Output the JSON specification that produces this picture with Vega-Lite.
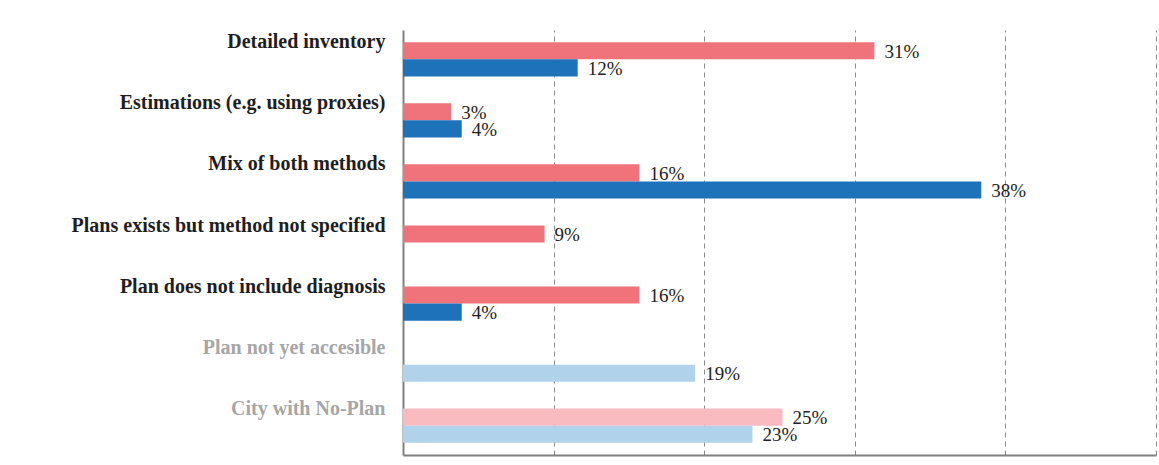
{
  "$schema": "https://vega.github.io/schema/vega-lite/v6.json",
  "width": 753,
  "height": 425,
  "autosize": {"type": "none"},
  "padding": {"left": 403, "top": 30, "right": 3, "bottom": 10},
  "background": "white",
  "data": {
    "values": [
      {"category": "Detailed inventory", "series": "A", "tone": "Red", "value": 31.3, "label": "31%"},
      {"category": "Detailed inventory", "series": "B", "tone": "Blue", "value": 11.6, "label": "12%"},
      {"category": "Estimations (e.g. using proxies)", "series": "A", "tone": "Red", "value": 3.2, "label": "3%"},
      {"category": "Estimations (e.g. using proxies)", "series": "B", "tone": "Blue", "value": 3.9, "label": "4%"},
      {"category": "Mix of both methods", "series": "A", "tone": "Red", "value": 15.7, "label": "16%"},
      {"category": "Mix of both methods", "series": "B", "tone": "Blue", "value": 38.4, "label": "38%"},
      {"category": "Plans exists  but method not specified", "series": "A", "tone": "Red", "value": 9.4, "label": "9%"},
      {"category": "Plan does not include diagnosis", "series": "A", "tone": "Red", "value": 15.7, "label": "16%"},
      {"category": "Plan does not include diagnosis", "series": "B", "tone": "Blue", "value": 3.9, "label": "4%"},
      {"category": "Plan not yet accesible", "series": "B", "tone": "LightBlue", "value": 19.4, "label": "19%"},
      {"category": "City with No-Plan", "series": "A", "tone": "LightRed", "value": 25.2, "label": "25%"},
      {"category": "City with No-Plan", "series": "B", "tone": "LightBlue", "value": 23.2, "label": "23%"}
    ]
  },
  "encoding": {
    "y": {
      "field": "category",
      "type": "nominal",
      "sort": null,
      "scale": {
        "domain": ["Detailed inventory", "Estimations (e.g. using proxies)", "Mix of both methods", "Plans exists  but method not specified", "Plan does not include diagnosis", "Plan not yet accesible", "City with No-Plan"],
        "paddingInner": 0.44,
        "paddingOuter": 0.2
      },
      "axis": {
        "title": null,
        "ticks": false,
        "labelPadding": 18,
        "labelOffset": -17,
        "labelFont": "Liberation Serif",
        "labelFontWeight": "bold",
        "labelFontSize": 20,
        "labelLimit": 400,
        "labelColor": {
          "condition": {"test": "datum.value === 'Plan not yet accesible' || datum.value === 'City with No-Plan'", "value": "#a6a6a6"},
          "value": "#1e1e1e"
        },
        "domainColor": "#808080",
        "domainWidth": 2,
        "grid": false
      }
    },
    "yOffset": {
      "field": "series",
      "type": "nominal",
      "scale": {"domain": ["A", "B"], "paddingInner": 0, "paddingOuter": 0}
    },
    "x": {
      "field": "value",
      "type": "quantitative",
      "scale": {"domain": [0, 50], "nice": false, "zero": true},
      "axis": {
        "title": null,
        "labels": false,
        "ticks": false,
        "values": [10, 20, 30, 40, 50],
        "grid": true,
        "gridColor": "#8a8a8a",
        "gridDash": [5, 4],
        "gridWidth": 1,
        "domainColor": "#808080",
        "domainWidth": 2
      }
    }
  },
  "layer": [
    {
      "mark": {"type": "bar"},
      "encoding": {
        "color": {
          "field": "tone",
          "type": "nominal",
          "scale": {"domain": ["Red", "Blue", "LightBlue", "LightRed"], "range": ["#F0727A", "#1D72BA", "#B0D3EB", "#F9BAC0"]},
          "legend": null
        }
      }
    },
    {
      "mark": {"type": "text", "align": "left", "baseline": "middle", "dx": 10, "dy": 1, "font": "Liberation Serif", "fontSize": 19, "color": "#222222"},
      "encoding": {"text": {"field": "label"}}
    }
  ],
  "config": {"view": {"stroke": null}}
}
